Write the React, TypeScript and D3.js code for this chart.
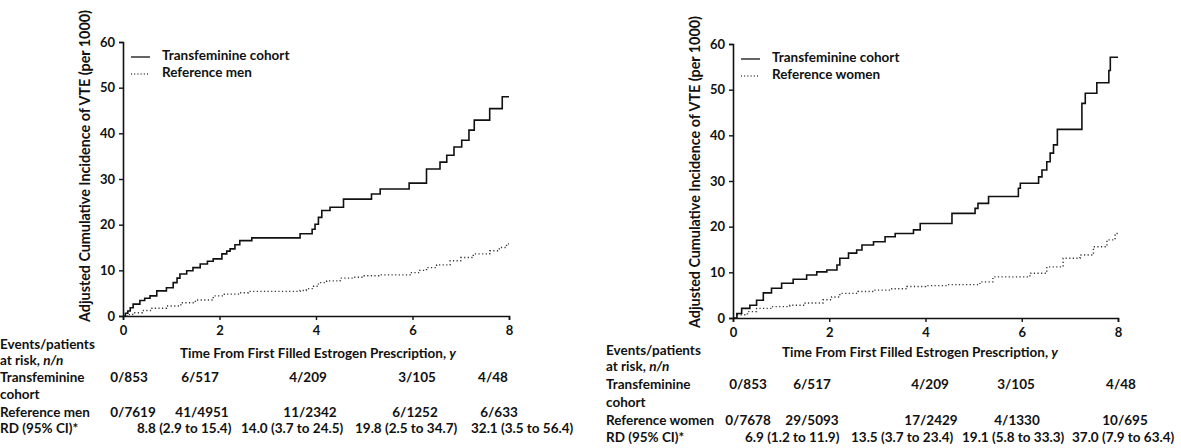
import React, { useEffect, useRef } from 'react'
import * as d3 from 'd3'

// x/y ticks shared by both panels
const xTicks = [0, 2, 4, 6, 8]
const yTicks = [0, 10, 20, 30, 40, 50, 60]

// cumulative incidence (per 1000), [year, value]
const menTransfem = [[0,0],[0.05,0.6],[0.1,1.1],[0.15,1.8],[0.21,2.6],[0.35,3.4],[0.45,3.9],[0.56,4.4],[0.7,5.5],[0.9,6.2],[1.04,7.3],[1.12,8.3],[1.18,9.2],[1.32,9.9],[1.45,10.6],[1.6,11.4],[1.75,12.0],[1.87,12.5],[2.05,13.6],[2.15,14.2],[2.22,14.7],[2.32,15.6],[2.42,16.5],[2.67,17.1],[3.67,18.0],[3.92,19.0],[3.98,20.1],[4.05,21.6],[4.12,23.1],[4.29,23.8],[4.57,25.6],[5.15,26.7],[5.33,27.8],[5.93,29.1],[6.29,32.2],[6.57,33.7],[6.71,35.2],[6.86,37.0],[7.02,38.5],[7.17,40.7],[7.28,42.9],[7.6,45.4],[7.86,48.0],[8.0,48.0]]
const menReference = [[0,0],[0.1,0.3],[0.2,0.7],[0.4,1.2],[0.6,1.7],[0.9,2.2],[1.2,2.9],[1.5,3.5],[1.87,4.4],[2.1,4.8],[2.42,5.1],[2.6,5.4],[3.67,5.6],[3.8,6.0],[3.95,6.5],[4.05,7.3],[4.22,7.7],[4.5,8.3],[4.77,8.5],[5.0,8.8],[5.3,9.0],[5.95,9.5],[6.15,10.0],[6.29,10.6],[6.5,11.2],[6.78,12.1],[7.0,12.8],[7.26,13.6],[7.6,14.3],[7.8,15.0],[7.95,15.8],[8.0,15.8]]
const womenTransfem = [[0,0],[0.08,1.0],[0.18,2.1],[0.35,2.8],[0.49,3.9],[0.63,5.5],[0.8,6.5],[1.01,7.6],[1.25,8.5],[1.53,9.4],[1.74,10.1],[1.95,10.5],[2.16,11.6],[2.22,13.1],[2.4,14.2],[2.57,14.9],[2.68,16.0],[2.92,16.7],[3.16,17.8],[3.37,18.5],[3.75,19.3],[3.89,20.7],[4.55,22.9],[5.03,24.0],[5.09,25.1],[5.31,26.6],[5.93,28.4],[5.97,29.5],[6.35,30.9],[6.42,32.4],[6.52,34.2],[6.59,36.1],[6.66,37.9],[6.74,41.3],[7.25,47.0],[7.32,49.2],[7.56,51.5],[7.81,54.2],[7.84,57.1],[8.0,57.1]]
const womenReference = [[0,0],[0.08,0.7],[0.3,1.4],[0.49,2.1],[0.8,2.5],[1.18,2.8],[1.5,3.3],[1.87,4.0],[2.05,4.6],[2.22,5.4],[2.6,5.8],[2.92,6.1],[3.3,6.4],[3.61,6.9],[4.0,7.1],[4.44,7.3],[5.13,7.9],[5.4,9.0],[6.17,9.8],[6.52,11.2],[6.86,13.1],[7.21,13.8],[7.49,15.6],[7.77,17.1],[7.94,18.5],[8.0,18.5]]

// events / patients at risk tables
const menAtRiskTransfem = ['0/853', '6/517', '4/209', '3/105', '4/48']
const menAtRiskReference = ['0/7619', '41/4951', '11/2342', '6/1252', '6/633']
const menRD = ['8.8 (2.9 to 15.4)', '14.0 (3.7 to 24.5)', '19.8 (2.5 to 34.7)', '32.1 (3.5 to 56.4)']
const womenAtRiskTransfem = ['0/853', '6/517', '4/209', '3/105', '4/48']
const womenAtRiskReference = ['0/7678', '29/5093', '17/2429', '4/1330', '10/695']
const womenRD = ['6.9 (1.2 to 11.9)', '13.5 (3.7 to 23.4)', '19.1 (5.8 to 33.3)', '37.0 (7.9 to 63.4)']

const FONT = 'Lato, "Liberation Sans", sans-serif'
const FS = 13.5

const panels = [
  {
    key: 'men', refName: 'Reference men', left: 123, right: 509, top: 42, bottom: 316, titleY: 166,
    trans: menTransfem, ref: menReference,
    atRiskT: menAtRiskTransfem, atRiskR: menAtRiskReference, rd: menRD,
    labelX: 0, rows: [346, 362, 379, 396, 414, 430], timeY: 355, timeX: 180,
    colT: [129, 200, 308, 417, 493], colR: [133, 202, 310, 415, 499], colRD: [137, 241, 355, 471],
  },
  {
    key: 'women', refName: 'Reference women', left: 733, right: 1118, top: 44, bottom: 318, titleY: 172,
    trans: womenTransfem, ref: womenReference,
    atRiskT: womenAtRiskTransfem, atRiskR: womenAtRiskReference, rd: womenRD,
    labelX: 606, rows: [352, 368, 386, 404, 422, 439], timeY: 354, timeX: 782,
    colT: [748, 812, 930, 1016, 1121], colR: [748, 812, 931, 1017, 1125], colRD: [745, 851, 962, 1072],
  },
]

function Panel({ p }) {
  const gx = useRef(null)
  const gy = useRef(null)

  const x = d3.scaleLinear().domain([0, 8]).range([p.left, p.right])
  const y = d3.scaleLinear().domain([0, 60]).range([p.bottom, p.top])
  const line = d3.line().x(d => x(d[0])).y(d => y(d[1])).curve(d3.curveStepAfter)

  useEffect(() => {
    const ax = d3.select(gx.current)
    ax.selectAll('*').remove()
    ax.call(d3.axisBottom(x).tickValues(xTicks).tickSize(4).tickPadding(6).tickFormat(d3.format('d')))
    const ay = d3.select(gy.current)
    ay.selectAll('*').remove()
    ay.call(d3.axisLeft(y).tickValues(yTicks).tickSize(4).tickPadding(4))
    for (const a of [ax, ay]) {
      a.select('.domain').attr('stroke', '#111').attr('stroke-width', 1.6)
      a.selectAll('.tick line').attr('stroke', '#111').attr('stroke-width', 1.4)
      a.selectAll('.tick text').attr('fill', '#111').attr('font-family', FONT)
        .attr('font-weight', 700).attr('font-size', 13)
    }
  }, [])

  const lx = p.left + 8
  const ly = p.top + 15
  return (
    <g>
      <g ref={gx} transform={`translate(0,${p.bottom})`} />
      <g ref={gy} transform={`translate(${p.left},0)`} />
      <text transform={`translate(${p.left - 37},${p.titleY}) rotate(-90)`}
        textAnchor="middle" dominantBaseline="middle" fontSize={14.3} fontWeight={700}
        fontFamily={FONT} fill="#111">Adjusted Cumulative Incidence of VTE (per 1000)</text>

      <path d={line(p.ref)} fill="none" stroke="#333" strokeWidth={1.4} strokeDasharray="1.2,2.4" />
      <path d={line(p.trans)} fill="none" stroke="#111" strokeWidth={1.6} />

      <g fontFamily={FONT} fontWeight={700} fontSize={FS} fill="#111">
        <line x1={lx} x2={lx + 19} y1={ly} y2={ly} stroke="#111" strokeWidth={1.3} />
        <text x={lx + 31} y={ly} dominantBaseline="middle">Transfeminine cohort</text>
        <line x1={lx} x2={lx + 19} y1={ly + 17} y2={ly + 17} stroke="#444" strokeWidth={1.3} strokeDasharray="1,2.2" />
        <text x={lx + 31} y={ly + 17} dominantBaseline="middle">{p.refName}</text>
      </g>

      <g fontFamily={FONT} fontWeight={700} fontSize={FS} fill="#111" dominantBaseline="middle">
        <text x={p.timeX} y={p.timeY}>Time From First Filled Estrogen Prescription, <tspan fontStyle="italic">y</tspan></text>
        <text x={p.labelX} y={p.rows[0]}>Events/patients</text>
        <text x={p.labelX} y={p.rows[1]}>at risk, <tspan fontStyle="italic">n/n</tspan></text>
        <text x={p.labelX} y={p.rows[2]}>Transfeminine</text>
        <text x={p.labelX} y={p.rows[3]}>cohort</text>
        <text x={p.labelX} y={p.rows[4]}>{p.refName}</text>
        <text x={p.labelX} y={p.rows[5]}>RD (95% CI)*</text>
        {p.atRiskT.map((s, i) => <text key={'t' + i} x={p.colT[i]} y={p.rows[2]} textAnchor="middle">{s}</text>)}
        {p.atRiskR.map((s, i) => <text key={'r' + i} x={p.colR[i]} y={p.rows[4]} textAnchor="middle">{s}</text>)}
        {p.rd.map((s, i) => <text key={'d' + i} x={p.colRD[i]} y={p.rows[5]}>{s}</text>)}
      </g>
    </g>
  )
}

export default function App() {
  return (
    <svg width={1181} height={448} style={{ position: 'absolute', left: 0, top: 0, background: '#fff' }}>
      <rect width={1181} height={448} fill="#fff" />
      {panels.map(p => <Panel key={p.key} p={p} />)}
    </svg>
  )
}
